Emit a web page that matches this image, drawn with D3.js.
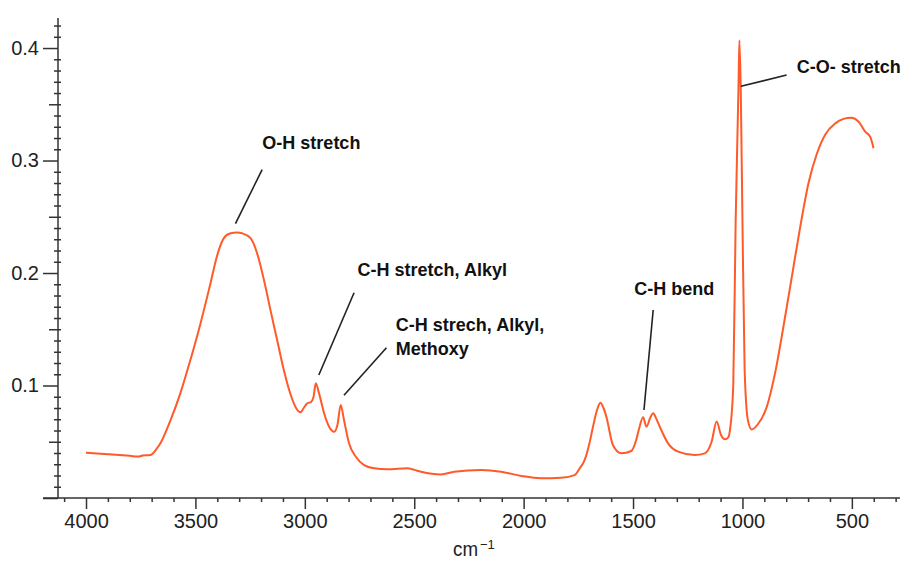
<!DOCTYPE html>
<html>
<head>
<meta charset="utf-8">
<script src="https://cdn.jsdelivr.net/npm/d3@7/dist/d3.min.js"></script>
<style>
  html, body { margin: 0; padding: 0; background: #fff; }
  svg { display: block; font-family: "Liberation Sans", Arial, sans-serif; }
</style>
</head>
<body>
<svg id="chart" width="904" height="561"></svg>
<script>
// ---- Data ----
const wavenumbers = [4000, 3900, 3800, 3760, 3740, 3706, 3680, 3660, 3614, 3569, 3523, 3477, 3431, 3400, 3370, 3339, 3310, 3286, 3248, 3218, 3187, 3157, 3126, 3096, 3065, 3040, 3020, 3005, 2990, 2970, 2960, 2950, 2935, 2912, 2889, 2866, 2851, 2836, 2821, 2798, 2767, 2729, 2683, 2622, 2531, 2500, 2469, 2378, 2317, 2194, 2103, 2011, 1920, 1828, 1767, 1745, 1721, 1700, 1683, 1665, 1649, 1635, 1622, 1592, 1554, 1508, 1485, 1474, 1454, 1439, 1420, 1408, 1395, 1378, 1340, 1294, 1218, 1172, 1141, 1118, 1098, 1080, 1065, 1057, 1042, 1031, 1018, 1014, 1008, 1000, 990, 975, 958, 928, 889, 851, 813, 774, 736, 698, 660, 622, 576, 538, 503, 469, 439, 416, 401];
const absorbance = [0.0403, 0.0390, 0.0375, 0.0368, 0.0378, 0.0382, 0.0430, 0.0486, 0.0690, 0.0930, 0.1227, 0.1550, 0.1910, 0.2160, 0.2310, 0.2353, 0.2360, 0.2353, 0.2310, 0.2175, 0.1940, 0.1670, 0.1400, 0.1138, 0.0920, 0.0800, 0.0762, 0.0800, 0.0840, 0.0856, 0.0900, 0.1020, 0.0930, 0.0753, 0.0634, 0.0590, 0.0649, 0.0827, 0.0693, 0.0486, 0.0367, 0.0293, 0.0264, 0.0255, 0.0264, 0.0250, 0.0234, 0.0210, 0.0234, 0.0249, 0.0234, 0.0196, 0.0175, 0.0180, 0.0204, 0.0260, 0.0338, 0.0480, 0.0634, 0.0780, 0.0847, 0.0800, 0.0723, 0.0471, 0.0397, 0.0418, 0.0520, 0.0604, 0.0717, 0.0634, 0.0720, 0.0753, 0.0710, 0.0634, 0.0486, 0.0412, 0.0382, 0.0397, 0.0500, 0.0680, 0.0560, 0.0522, 0.0540, 0.0604, 0.1000, 0.2470, 0.3660, 0.4070, 0.3660, 0.2470, 0.1140, 0.0690, 0.0610, 0.0660, 0.0810, 0.1110, 0.1520, 0.1970, 0.2410, 0.2800, 0.3060, 0.3230, 0.3330, 0.3370, 0.3380, 0.3345, 0.3256, 0.3210, 0.3110];

const xTickValues = [4000, 3500, 3000, 2500, 2000, 1500, 1000, 500];
const yTickValues = [0.1, 0.2, 0.3, 0.4];
const xAxisTitle = "cm";
const xAxisTitleSup = "\u22121";

// Annotations: label anchor (w, v) and leader line from (w1, v1) to (w2, v2)
const annotationLines = [
  ["O-H stretch"],
  ["C-H stretch, Alkyl"],
  ["C-H strech, Alkyl,", "Methoxy"],
  ["C-H bend"],
  ["C-O- stretch"]
];
const annotationLabelAt = [[3194, 0.310], [2759, 0.1973], [2584, 0.1484], [1494, 0.1804], [752, 0.3775]];
const annotationLeaderFrom = [[3195, 0.292], [2775, 0.1825], [2627, 0.1336], [1408, 0.1671], [798, 0.376]];
const annotationLeaderTo = [[3317, 0.244], [2936, 0.1093], [2821, 0.0913], [1450, 0.0782], [1007, 0.366]];

// ---- Layout ----
const svg = d3.select("#chart");
const mLeft = 58, mRight = 900, mTop = 18, mBottom = 498;

const x = d3.scaleLinear().domain([4128, 280]).range([mLeft, mRight]);
const y = d3.scaleLinear().domain([0, 0.4267]).range([mBottom, mTop]);

const axisColor = "#333";

// Y minor ticks (0.01)
const yMinor = d3.range(0, 0.4201, 0.01).map(v => +v.toFixed(2));
svg.append("g").attr("transform", `translate(${mLeft},0)`)
  .call(d3.axisLeft(y).tickValues(yMinor.filter(v => Math.round(v * 100) % 5 !== 0)).tickSize(4).tickFormat(""))
  .call(g => g.select(".domain").remove())
  .call(g => g.selectAll("line").attr("x2", -4).attr("x1", 3).attr("stroke", axisColor).attr("stroke-width", 1.5));
// Y medium ticks (0.05)
svg.append("g").attr("transform", `translate(${mLeft},0)`)
  .call(d3.axisLeft(y).tickValues([0.05, 0.15, 0.25, 0.35]).tickSize(9).tickFormat(""))
  .call(g => g.select(".domain").remove())
  .call(g => g.selectAll("line").attr("x1", 3).attr("stroke", axisColor).attr("stroke-width", 1.5));
// Y major ticks with labels
svg.append("g").attr("transform", `translate(${mLeft},0)`)
  .call(d3.axisLeft(y).tickValues([0].concat(yTickValues)).tickSize(15).tickPadding(4)
    .tickFormat(d => d === 0 ? "" : d3.format(".1f")(d)))
  .call(g => g.select(".domain").attr("stroke", axisColor).attr("stroke-width", 1.5).attr("d", `M0,${mBottom}V${mTop}`))
  .call(g => g.selectAll("line").attr("stroke", axisColor).attr("stroke-width", 1.5))
  .call(g => g.selectAll("text").attr("font-size", 20).attr("fill", "#222"));

// X minor ticks (100)
const xMinor = d3.range(4100, 250, -100).filter(v => v % 500 !== 0);
svg.append("g").attr("transform", `translate(0,${mBottom})`)
  .call(d3.axisBottom(x).tickValues(xMinor).tickSize(4).tickFormat(""))
  .call(g => g.select(".domain").remove())
  .call(g => g.selectAll("line").attr("stroke", axisColor).attr("stroke-width", 1.5));
// X major ticks
svg.append("g").attr("transform", `translate(0,${mBottom})`)
  .call(d3.axisBottom(x).tickValues(xTickValues).tickSize(11).tickPadding(5).tickFormat(d3.format("d")))
  .call(g => g.select(".domain").attr("stroke", axisColor).attr("stroke-width", 1.5).attr("d", `M${mLeft - 15},0H${mRight}`))
  .call(g => g.selectAll("line").attr("stroke", axisColor).attr("stroke-width", 1.5))
  .call(g => g.selectAll("text").attr("font-size", 20).attr("fill", "#222"));

// X axis title (base text and superscript)
svg.append("text").attr("x", 453).attr("y", 556).attr("font-size", 21).attr("fill", "#222")
  .attr("textLength", 25).attr("lengthAdjust", "spacingAndGlyphs").text(xAxisTitle);
svg.append("text").attr("x", 480).attr("y", 549).attr("font-size", 13).attr("fill", "#222")
  .text(xAxisTitleSup);

// Spectrum line
const data = wavenumbers.map((w, i) => ({ w, v: absorbance[i] }));
svg.append("path").datum(data)
  .attr("fill", "none")
  .attr("stroke", "#ff5a28")
  .attr("stroke-width", 2)
  .attr("stroke-linejoin", "round")
  .attr("d", d3.line().x(d => x(d.w)).y(d => y(d.v)).curve(d3.curveMonotoneX));

// Annotations
annotationLines.forEach((lines, i) => {
  svg.append("line")
    .attr("x1", x(annotationLeaderFrom[i][0])).attr("y1", y(annotationLeaderFrom[i][1]))
    .attr("x2", x(annotationLeaderTo[i][0])).attr("y2", y(annotationLeaderTo[i][1]))
    .attr("stroke", "#222").attr("stroke-width", 1.6);
  lines.forEach((t, j) => {
    svg.append("text")
      .attr("x", x(annotationLabelAt[i][0]))
      .attr("y", y(annotationLabelAt[i][1]) + j * 24)
      .attr("font-size", 18).attr("font-weight", "bold").attr("fill", "#111")
      .text(t);
  });
});
</script>
</body>
</html>
